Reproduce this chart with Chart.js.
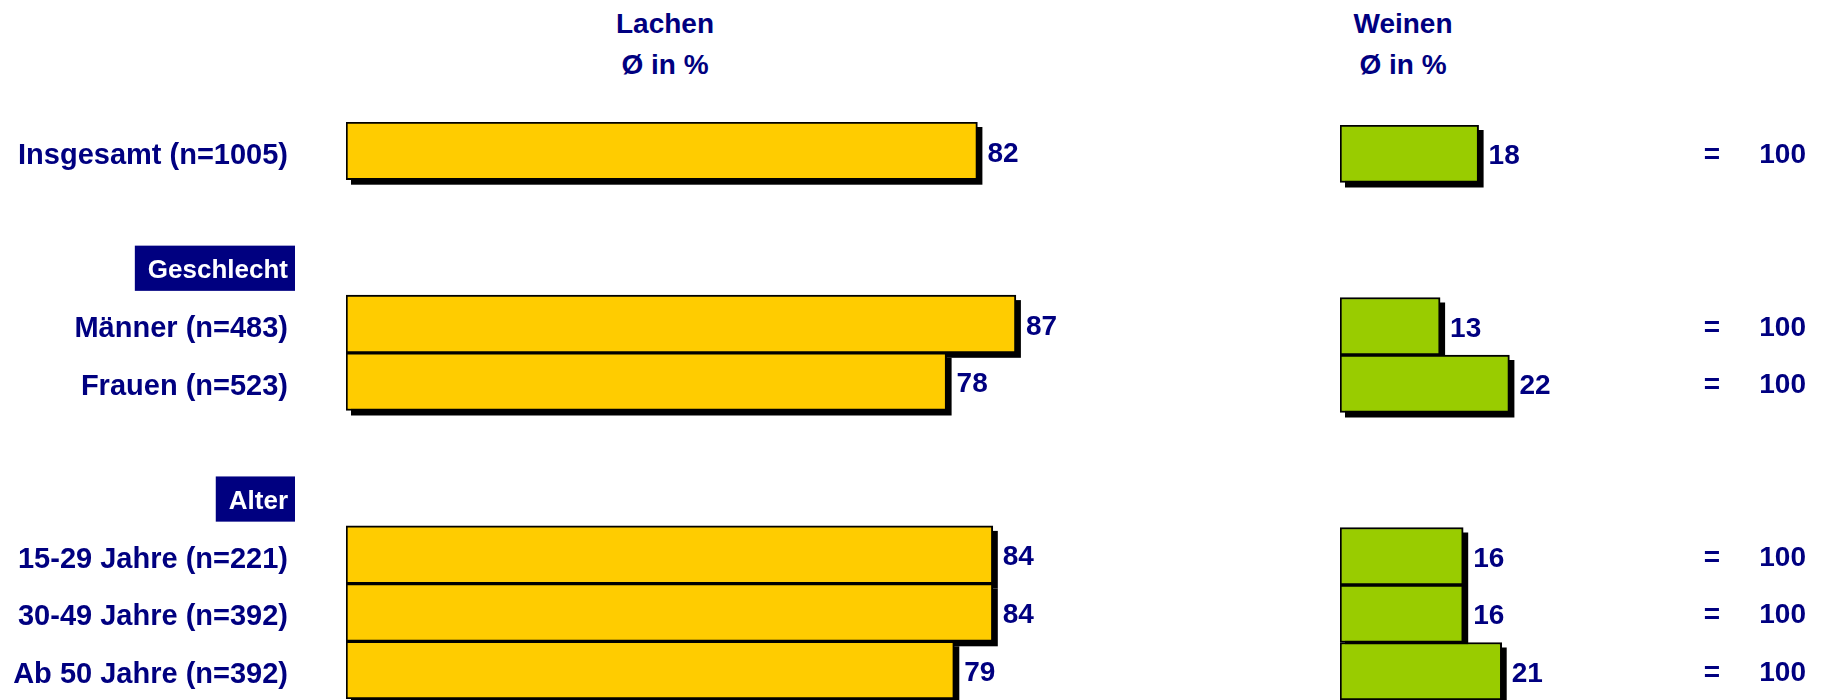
<!DOCTYPE html>
<html lang="de">
<head>
  <meta charset="UTF-8" />
  <title>Lachen / Weinen</title>

  <!-- Chart.js -->
  <script src="https://cdn.jsdelivr.net/npm/chart.js"></script>

  <style>
    body {
      margin: 0;
      background: #ffffff;
      font-family: 'Liberation Sans', Arial, sans-serif;
    }

    .stage {
      position: relative;
      width: 1829px;
      height: 700px;
      overflow: hidden;
    }

    .head {
      position: absolute;
      top: 3px;
      width: 300px;
      text-align: center;
      font-size: 28px;
      font-weight: bold;
      line-height: 41px;
      color: #000080;
    }

    #lachenChart {
      position: absolute;
      left: 0;
      top: 0;
    }

    #weinenChart {
      position: absolute;
      left: 1200px;
      top: 0;
    }
  </style>
</head>
<body>

  <div class="stage">
    <div class="head" style="left: 515px;">Lachen<br>Ø in %</div>
    <div class="head" style="left: 1253px;">Weinen<br>Ø in %</div>

    <canvas id="lachenChart" width="1200" height="700"></canvas>
    <canvas id="weinenChart" width="629" height="700"></canvas>
  </div>

  <script>
    // Data
    const categories = [
      "Insgesamt (n=1005)", "", "Geschlecht",
      "Männer (n=483)", "Frauen (n=523)", "", "Alter",
      "15-29 Jahre (n=221)", "30-49 Jahre (n=392)", "Ab 50 Jahre (n=392)"
    ];
    const lachen = [82, null, null, 87, 78, null, null, 84, 84, 79];
    const weinen = [18, null, null, 13, 22, null, null, 16, 16, 21];
    const headerRows = ["Geschlecht", "Alter"];

    const NAVY = "#000080";
    const FONT = "'Liberation Sans', Arial, sans-serif";

    // black drop shadow under each bar (offset 5px right / down)
    const barShadow = {
      id: "barShadow",
      beforeDatasetsDraw(chart) {
        const ctx = chart.ctx;
        ctx.save();
        ctx.fillStyle = "#000000";
        chart.getDatasetMeta(0).data.forEach((bar, i) => {
          if (chart.data.datasets[0].data[i] == null) return;
          const top = bar.y - bar.height / 2;
          ctx.fillRect(bar.base + 5, top + 5, bar.x - bar.base, bar.height);
        });
        ctx.restore();
      }
    };

    // value written right of each bar
    const valueLabels = {
      id: "valueLabels",
      afterDatasetsDraw(chart) {
        const ctx = chart.ctx;
        const values = chart.data.datasets[0].data;
        ctx.save();
        ctx.font = "bold 28px " + FONT;
        ctx.fillStyle = NAVY;
        ctx.textAlign = "left";
        ctx.textBaseline = "middle";
        chart.getDatasetMeta(0).data.forEach((bar, i) => {
          if (values[i] == null) return;
          ctx.fillText(String(values[i]), bar.x + 10, bar.y + 3);
        });
        ctx.restore();
      }
    };

    // "= 100" column on the right
    const totalColumn = {
      id: "totalColumn",
      afterDraw(chart) {
        const ctx = chart.ctx;
        const y = chart.scales.y;
        ctx.save();
        ctx.font = "bold 28px " + FONT;
        ctx.fillStyle = NAVY;
        ctx.textBaseline = "middle";
        lachen.forEach((v, i) => {
          if (v == null) return;
          const py = y.getPixelForValue(i) + 2;
          ctx.textAlign = "center";
          ctx.fillText("=", 512, py);
          ctx.textAlign = "right";
          ctx.fillText(String(v + weinen[i]), 606, py);
        });
        ctx.restore();
      }
    };

    const isHeader = c => headerRows.includes(categories[c.index]);

    // Left chart: row labels + Lachen bars
    new Chart(document.getElementById("lachenChart"), {
      type: "bar",
      data: {
        labels: categories,
        datasets: [{
          data: lachen,
          backgroundColor: "#FFCC00",
          borderColor: "#000000",
          borderWidth: 2,
          borderSkipped: false,
          categoryPercentage: 1,
          barPercentage: 1
        }]
      },
      options: {
        indexAxis: "y",
        responsive: false,
        animation: false,
        layout: { padding: { top: 122, bottom: 1, left: 0, right: 84 } },
        plugins: { legend: { display: false }, tooltip: { enabled: false } },
        scales: {
          x: { min: 0, max: 100, display: false },
          y: {
            grid: { display: false, drawTicks: false },
            border: { display: false },
            afterFit: s => {
              s.width = 346;
              s.paddingTop = 0;
              s.paddingBottom = 0;
            },
            ticks: {
              autoSkip: false,
              padding: 58,
              labelOffset: 5,
              color: c => isHeader(c) ? "#ffffff" : NAVY,
              font: c => ({ family: FONT, weight: "bold", size: isHeader(c) ? 26 : 29 }),
              showLabelBackdrop: c => isHeader(c),
              backdropColor: NAVY,
              backdropPadding: { left: 13, right: 7, top: 10, bottom: 4 }
            }
          }
        }
      },
      plugins: [barShadow, valueLabels]
    });

    // Right chart: Weinen bars + totals
    new Chart(document.getElementById("weinenChart"), {
      type: "bar",
      data: {
        labels: categories,
        datasets: [{
          data: weinen,
          backgroundColor: "#99CC00",
          borderColor: "#000000",
          borderWidth: 2,
          borderSkipped: false,
          categoryPercentage: 1,
          barPercentage: 1
        }]
      },
      options: {
        indexAxis: "y",
        responsive: false,
        animation: false,
        layout: { padding: { top: 125, bottom: 0, left: 140, right: 104 } },
        plugins: { legend: { display: false }, tooltip: { enabled: false } },
        scales: {
          x: { min: 0, max: 50, display: false },
          y: { display: false }
        }
      },
      plugins: [barShadow, valueLabels, totalColumn]
    });
  </script>
</body>
</html>
